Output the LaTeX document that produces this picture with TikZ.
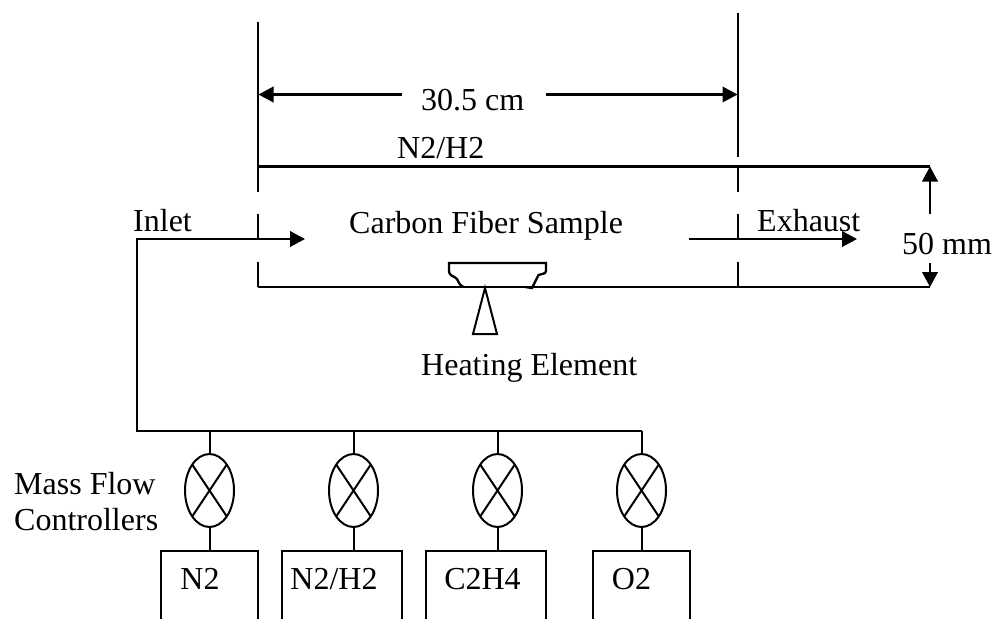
\documentclass[tikz,border=0pt]{standalone}
\usepackage{fontspec}
\setmainfont{Liberation Serif}
\usetikzlibrary{arrows.meta,calc,shapes.geometric}
\tikzset{
  x=1pt,y=-1pt,
  mainline/.style={draw=black,line width=2.3pt,line join=miter},
  wall/.style={draw=black,line width=2pt},
  arr/.style={mainline,-{Triangle[length=15pt,width=15.5pt]}},
  lbl/.style={inner sep=0pt,anchor=base west,font=\fontsize{32}{36}\selectfont,text=black},
  valve/.style={draw=black,line width=2pt,ellipse,minimum width=49pt,minimum height=73pt,inner sep=0pt},
}
\newcommand{\gasline}[4]{%
  % #1 name, #2 centre x, #3 box left, #4 box right
  \node[valve] (v#1) at (#2,490.5) {};
  \coordinate (b#1) at (#2,431);
  \coordinate (t#1) at (#2,551);
  \coordinate (tl#1) at (#3,551);
  \coordinate (tr#1) at (#4,551);
  \coordinate (bl#1) at (#3,619);
  \coordinate (br#1) at (#4,619);
  \draw[wall] (b#1) -- (v#1.north);
  \draw[wall] (v#1.south) -- (t#1);
  \draw[wall] (bl#1) -- (tl#1) -- (tr#1) -- (br#1);
  \draw[wall] ($(v#1)+(-17,-25.5)$) -- ($(v#1)+(17,25.5)$);
  \draw[wall] ($(v#1)+(17,-25.5)$) -- ($(v#1)+(-17,25.5)$);
}
\begin{document}
\begin{tikzpicture}
\useasboundingbox (0,0) rectangle (993,619);
% walls and extension lines
\draw[wall] (258,22) -- (258,192) (258,214) -- (258,239) (258,262) -- (258,287);
\draw[wall] (738,13) -- (738,157) (738,167) -- (738,192) (738,214) -- (738,239) (738,262) -- (738,287);
\coordinate (tubeTL) at (258,166.5);
\coordinate (tubeTR) at (930,166.5);
\coordinate (tubeBL) at (258,287);
\coordinate (tubeBR) at (930,287);
\draw[mainline] (tubeTL) -- (tubeTR);
\draw[mainline] (tubeBL) -- (tubeBR);
% dimension 30.5 cm
\node[lbl] (len) at (421,110) {30.5 cm};
\coordinate (lenL) at (402,94.5);
\coordinate (lenLend) at (258.5,94.5);
\coordinate (lenR) at (546,94.5);
\coordinate (lenRend) at (737.5,94.5);
\draw[arr] (lenL) -- (lenLend);
\draw[arr] (lenR) -- (lenRend);
% dimension 50 mm
\node[lbl] (dia) at (902,254) {50 mm};
\coordinate (diaU) at (930,214);
\coordinate (diaD) at (930,263);
\draw[arr] (diaU) -- (tubeTR);
\draw[arr] (diaD) -- (tubeBR);
% flow
\coordinate (busL) at (137,431);
\coordinate (busR) at (641.5,431);
\coordinate (inC) at (137,239);
\coordinate (inE) at (305,239);
\coordinate (exS) at (689,239);
\coordinate (exE) at (857,239);
\draw[arr] (busR) -- (busL) -- (inC) -- (inE);
\draw[arr] (exS) -- (exE);
% sample and heater
\draw[mainline] (463,286.5) .. controls (459,285) and (459,282) .. (457,279)
  .. controls (454,275.5) and (449,277) .. (449,270) -- (449,263) -- (546,263) -- (546,271)
  .. controls (546,274) and (541,274) .. (538.5,275) -- (532,288) -- (525,287);
\draw[wall] (485,288) -- (497,334) -- (473,334) -- cycle;
% gas lines
\gasline{A}{209.5}{161}{258}
\gasline{B}{353.5}{282}{402}
\gasline{C}{497.5}{426}{546}
\gasline{D}{641.5}{593}{690}
% labels
\node[lbl] (n2h2) at (397,158) {N2/H2};
\node[lbl] (inlet) at (133,231) {Inlet};
\node[lbl] (cfs) at (349,233) {Carbon Fiber Sample};
\node[lbl] (exh) at (757,231) {Exhaust};
\node[lbl] (heat) at (421,375) {Heating Element};
\node[lbl] (mf1) at (14,494) {Mass Flow};
\node[lbl] (mf2) at (14,530) {Controllers};
\node[lbl,anchor=base] (gA) at (200,589) {N2};
\node[lbl,anchor=base] (gB) at (334,589) {N2/H2};
\node[lbl,anchor=base] (gC) at (482.5,589) {C2H4};
\node[lbl,anchor=base] (gD) at (631.5,589) {O2};
\end{tikzpicture}
\end{document}
